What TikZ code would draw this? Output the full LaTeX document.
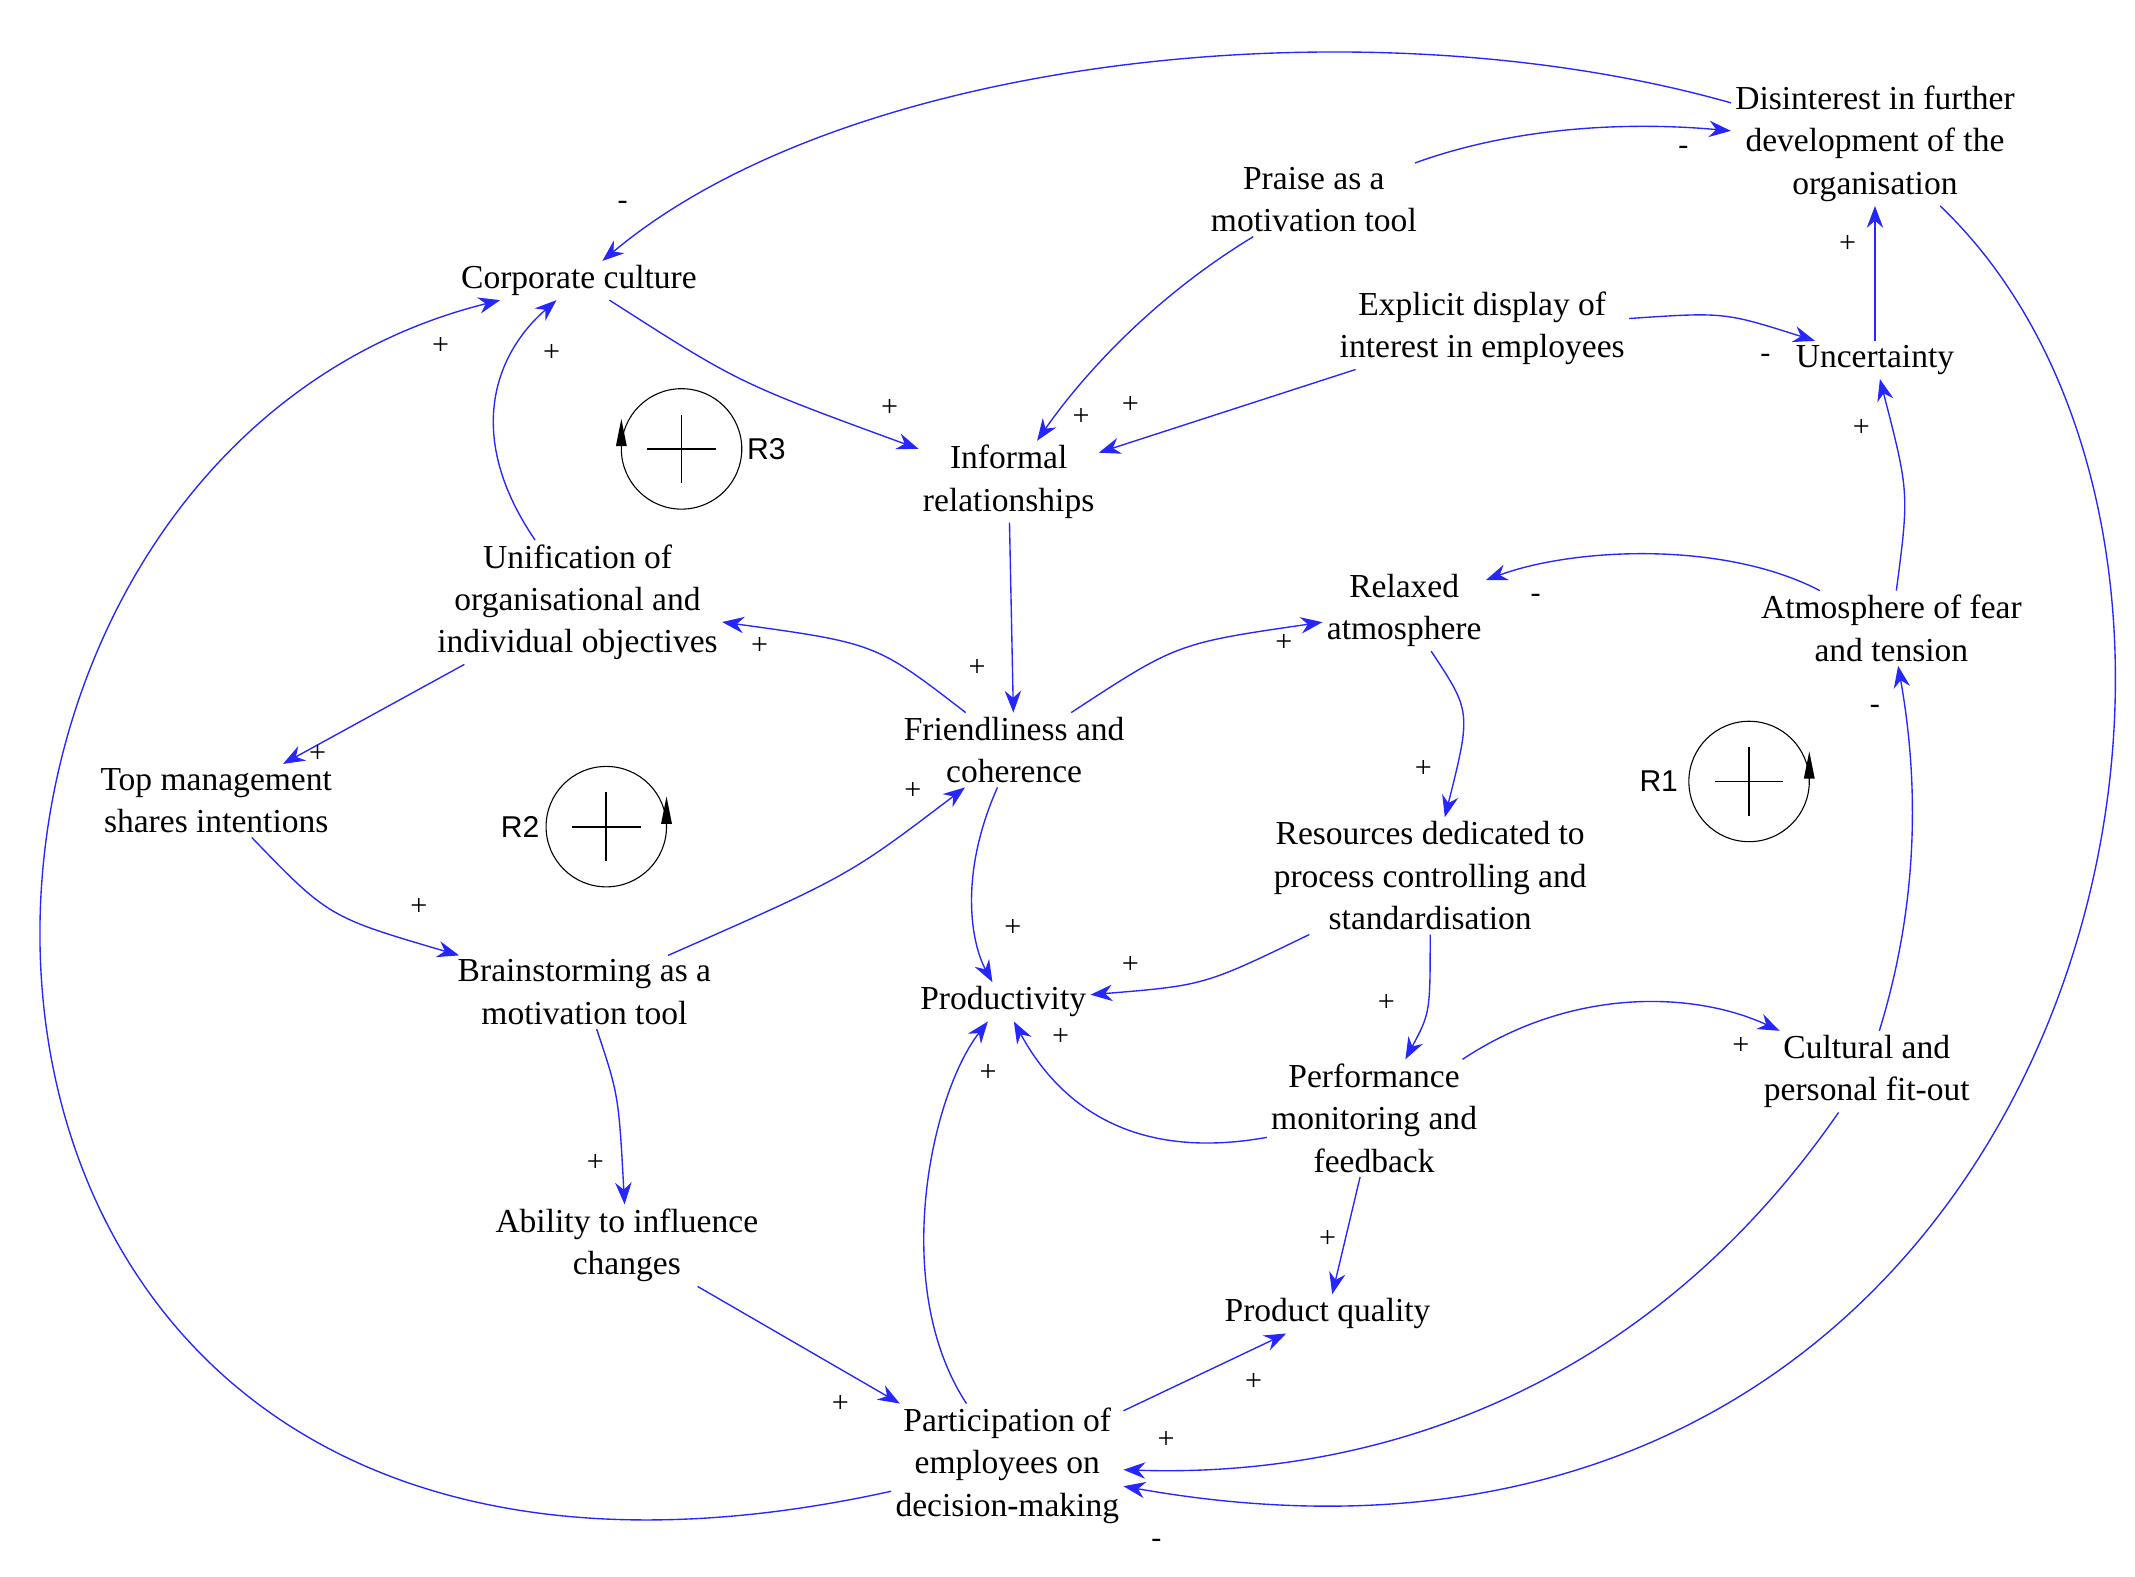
\documentclass[tikz,border=0pt]{standalone}
\usepackage{fontspec}
\setmainfont{Liberation Serif}
\newfontfamily\sansf{Liberation Sans}
\usetikzlibrary{arrows.meta}
\begin{document}
\begin{tikzpicture}[x=1pt,y=1pt,
  v/.style={align=center,inner sep=3pt,font=\fontsize{24.5}{31}\selectfont},
  e/.style={draw=blue!85!white,line width=1pt,-{Stealth[length=16pt,width=12pt]},fill=none},
  s/.style={font=\fontsize{22}{22}\selectfont,inner sep=0pt},
  lp/.style={line width=0.8pt},
  lbl/.style={font=\sansf\fontsize{22}{22}\selectfont,inner sep=0pt}]
\useasboundingbox (0,0) rectangle (1560,-1152);
\node[v] (dis) at (1370,-105) {Disinterest in further\\development of the\\organisation};
\node[v] (pr) at (960,-146) {Praise as a\\motivation tool};
\node[v] (cc) at (423,-205) {Corporate culture};
\node[v] (ex) at (1083,-240) {Explicit display of\\interest in employees};
\node[v] (un) at (1370,-263) {Uncertainty};
\node[v] (inf) at (737,-352) {Informal\\relationships};
\node[v] (uni) at (422,-440) {Unification of\\organisational and\\individual objectives};
\node[v] (rel) at (1026,-446) {Relaxed\\atmosphere};
\node[v] (atm) at (1382,-459) {Atmosphere of fear\\and tension};
\node[v] (fr) at (741,-548) {Friendliness and\\coherence};
\node[v] (top) at (158,-585) {Top management\\shares intentions};
\node[v] (res) at (1045,-640) {Resources dedicated to\\process controlling and\\standardisation};
\node[v] (br) at (427,-725) {Brainstorming as a\\motivation tool};
\node[v] (prod) at (733,-732) {Productivity};
\node[v] (cult) at (1364,-783) {Cultural and\\personal fit-out};
\node[v] (perf) at (1004,-817) {Performance\\monitoring and\\feedback};
\node[v] (ab) at (458,-910) {Ability to influence\\changes};
\node[v] (pq) at (970,-960) {Product quality};
\node[v] (pa) at (736,-1071) {Participation of\\employees on\\decision-making};

\draw[e] (dis) .. controls (1000,0) and (620,-40) .. (cc);
\draw[e] (pr) .. controls (1100,-95) and (1180,-88) .. (dis);
\draw[e] (dis) .. controls (1700,-420) and (1520,-1210) .. (pa);
\draw[e] (un) -- (dis);
\draw[e] (ex) .. controls (1260,-228) .. (un);
\draw[e] (ex) -- (inf);
\draw[e] (pr) .. controls (830,-225) and (780,-290) .. (inf);
\draw[e] (cc) .. controls (540,-280) .. (inf);
\draw[e] (inf) -- (fr);
\draw[e] (uni) .. controls (340,-320) and (360,-260) .. (cc);
\draw[e] (fr) .. controls (640,-470) .. (uni);
\draw[e] (uni) -- (top);
\draw[e] (top) .. controls (240,-670) .. (br);
\draw[e] (br) .. controls (620,-640) .. (fr);
\draw[e] (br) .. controls (452,-800) .. (ab);
\draw[e] (ab) -- (pa);
\draw[e] (pa) .. controls (-120,-1260) and (-120,-340) .. (cc);
\draw[e] (pa) .. controls (650,-940) and (680,-800) .. (prod);
\draw[e] (pa) -- (pq);
\draw[e] (fr) .. controls (700,-640) and (710,-690) .. (prod);
\draw[e] (fr) .. controls (860,-470) .. (rel);
\draw[e] (atm) .. controls (1260,-395) and (1150,-400) .. (rel);
\draw[e] (atm) .. controls (1395,-360) .. (un);
\draw[e] (rel) .. controls (1075,-520) .. (res);
\draw[e] (res) .. controls (880,-720) .. (prod);
\draw[e] (res) .. controls (1045,-740) .. (perf);
\draw[e] (perf) .. controls (820,-850) and (770,-800) .. (prod);
\draw[e] (perf) .. controls (1150,-720) and (1240,-725) .. (cult);
\draw[e] (perf) -- (pq);
\draw[e] (cult) .. controls (1405,-650) and (1400,-560) .. (atm);
\draw[e] (cult) .. controls (1200,-1020) and (1000,-1080) .. (pa);

\foreach \x/\y/\t [count=\i] in {455/150/-,1230/110/-,845/1128/-,1350/178/+,1290/262/-,826/296/+,790/305/+,650/298/+,714/488/+,403/258/+,555/472/+,232/551/+,306/663/+,667/578/+,435/850/+,614/1026/+,322/253/+,722/784/+,916/1010/+,740/678/+,938/470/+,1122/437/-,1360/313/+,1040/562/+,826/705/+,1013/733/+,775/758/+,1272/764/+,970/905/+,1370/518/-,852/1052/+}
  \node[s] (m\i) at (\x,-\y) {\t};

\foreach \n/\cx/\cy/\ax in {a/498/328/-1, b/443/604/1, c/1278/571/1}{
  \draw[lp] (\cx,-\cy) circle (44);
  \draw[line width=1.3pt] (\cx-25,-\cy) -- (\cx+25,-\cy) (\cx,-\cy+25) -- (\cx,-\cy-25);
  \fill (\cx+\ax*44-4,-\cy+2) -- (\cx+\ax*44+4,-\cy+2) -- (\cx+\ax*44,-\cy+22) -- cycle;
}
\node[lbl] (r3) at (560,-328) {R3};
\node[lbl] (r2) at (380,-604) {R2};
\node[lbl] (r1) at (1212,-571) {R1};
\end{tikzpicture}
\end{document}
